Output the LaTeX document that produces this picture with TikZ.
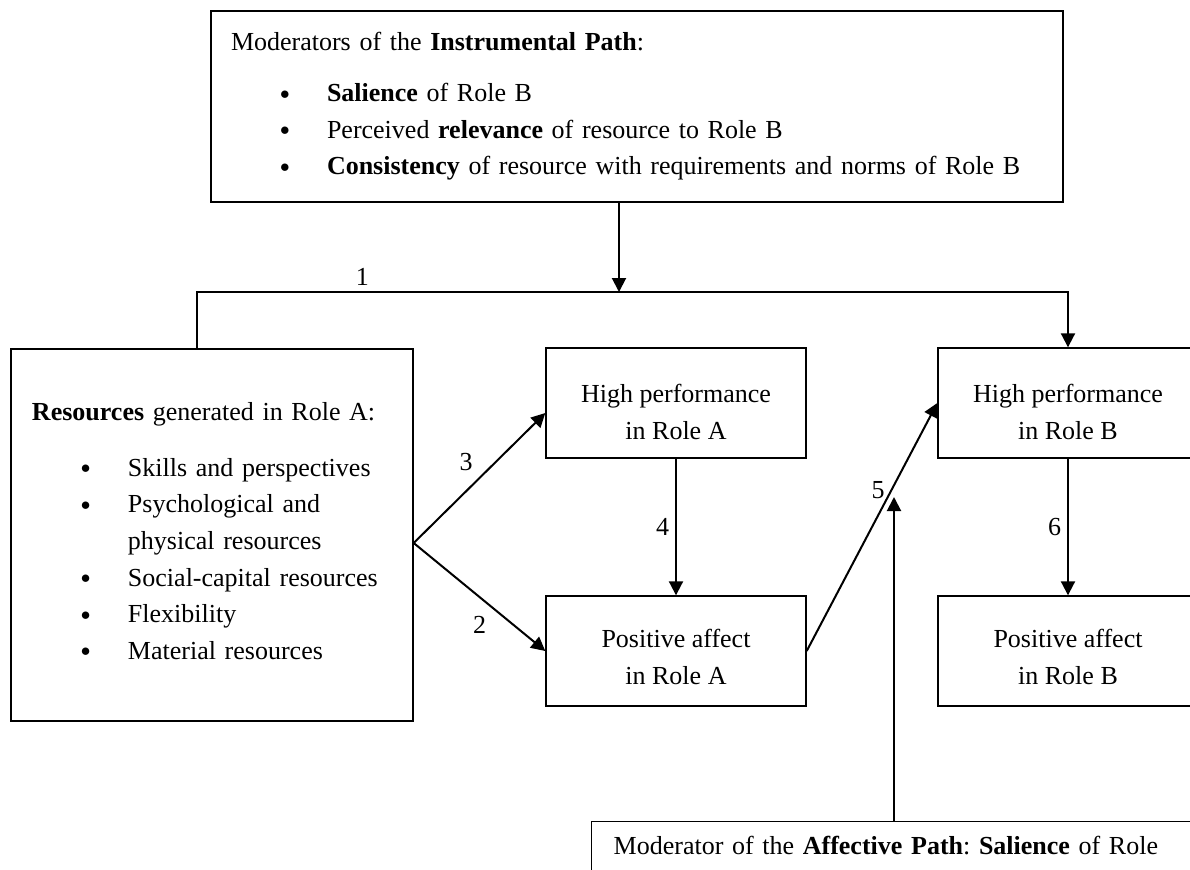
\documentclass[tikz,border=0pt]{standalone}
\usepackage{fontspec}
\setmainfont{Liberation Serif}
\usetikzlibrary{arrows.meta}
\frenchspacing
\tikzstyle{diagram} = [x = 0.5pt, y = -0.5pt, every node/.style={font=\fontsize{13}{18.3}\selectfont}]
\tikzstyle{boxStyle} = [draw, line width=0.7pt, inner sep=0pt]
\tikzstyle{roleBox} = [boxStyle, minimum width=130pt, minimum height=55pt, align=center]
\tikzstyle{arrowStyle} = [line width=1pt, -{Triangle[length=7pt, width=7pt]}]
\tikzstyle{pathLabel} = [inner sep=3pt]
\newcommand{\bulletItem}[1]{\hspace*{24.5pt}\makebox[23.5pt][l]{\raisebox{1.3pt}{\scalebox{0.8}{$\bullet$}}}#1}

\begin{document}
\begin{tikzpicture}[diagram]
  \useasboundingbox (0,0) rectangle (1190,869);
  \clip (0,0) rectangle (1190,869);

  % moderator boxes
  \node[boxStyle, minimum width=426pt, minimum height=95.5pt, text width=406pt, align=left] (instr) at (637,106.5)
    {Moderators of the \textbf{Instrumental Path}:\\[7.2pt]
     \bulletItem{\textbf{Salience} of Role B}\\
     \bulletItem{Perceived \textbf{relevance} of resource to Role B}\\
     \bulletItem{\textbf{Consistency} of resource with requirements and norms of Role B}};
  \node[boxStyle, anchor=north west, text width=300pt, align=left, inner xsep=11pt, inner ysep=7pt, text depth=14pt] (aff) at (591,821)
    {Moderator of the \textbf{Affective Path}: \textbf{Salience} of Role};

  % role boxes
  \node[boxStyle, minimum width=201pt, minimum height=186pt, text width=180pt, align=left] (res) at (212,535)
    {\textbf{Resources} generated in Role A:\\[9.4pt]
     \bulletItem{Skills and perspectives}\\
     \bulletItem{Psychological and}\\
     \hspace*{48pt}physical resources\\
     \bulletItem{Social-capital resources}\\
     \bulletItem{Flexibility}\\
     \bulletItem{Material resources}\rule[-4pt]{0pt}{0pt}};
  \node[roleBox] (hpa) at (676,403) {\rule{0pt}{18pt}High performance\\in Role A};
  \node[roleBox] (paa) at (676,651) {\rule{0pt}{15pt}Positive affect\\in Role A};
  \node[roleBox] (hpb) at (1068,403) {\rule{0pt}{18pt}High performance\\in Role B};
  \node[roleBox] (pab) at (1068,651) {\rule{0pt}{15pt}Positive affect\\in Role B};

  % paths
  \coordinate (junction) at (619,292);
  \coordinate (corner) at (197,292);
  \coordinate (fork) at ([yshift=-4pt]res.east);
  \coordinate (affTip) at (894,497);

  \draw[arrowStyle] (instr.south -| junction) -- (junction);
  \draw[arrowStyle] (res.north -| corner) -- (corner) -- node[pathLabel, above, pos=0.19] {1} (corner -| hpb.north) -- (hpb.north);
  \draw[arrowStyle] (fork) -- node[pathLabel, above left] {3} ([yshift=-5pt]hpa.west);
  \draw[arrowStyle] (fork) -- node[pathLabel, below, yshift=-6pt] {2} (paa.west);
  \draw[arrowStyle] (hpa.south) -- node[pathLabel, left] {4} (paa.north);
  \draw[arrowStyle] (paa.east) -- node[pathLabel, left, pos=0.65] {5} (hpb.west);
  \draw[arrowStyle] (hpb.south) -- node[pathLabel, left] {6} (pab.north);
  \draw[arrowStyle] (aff.north -| affTip) -- (affTip);
\end{tikzpicture}
\end{document}
